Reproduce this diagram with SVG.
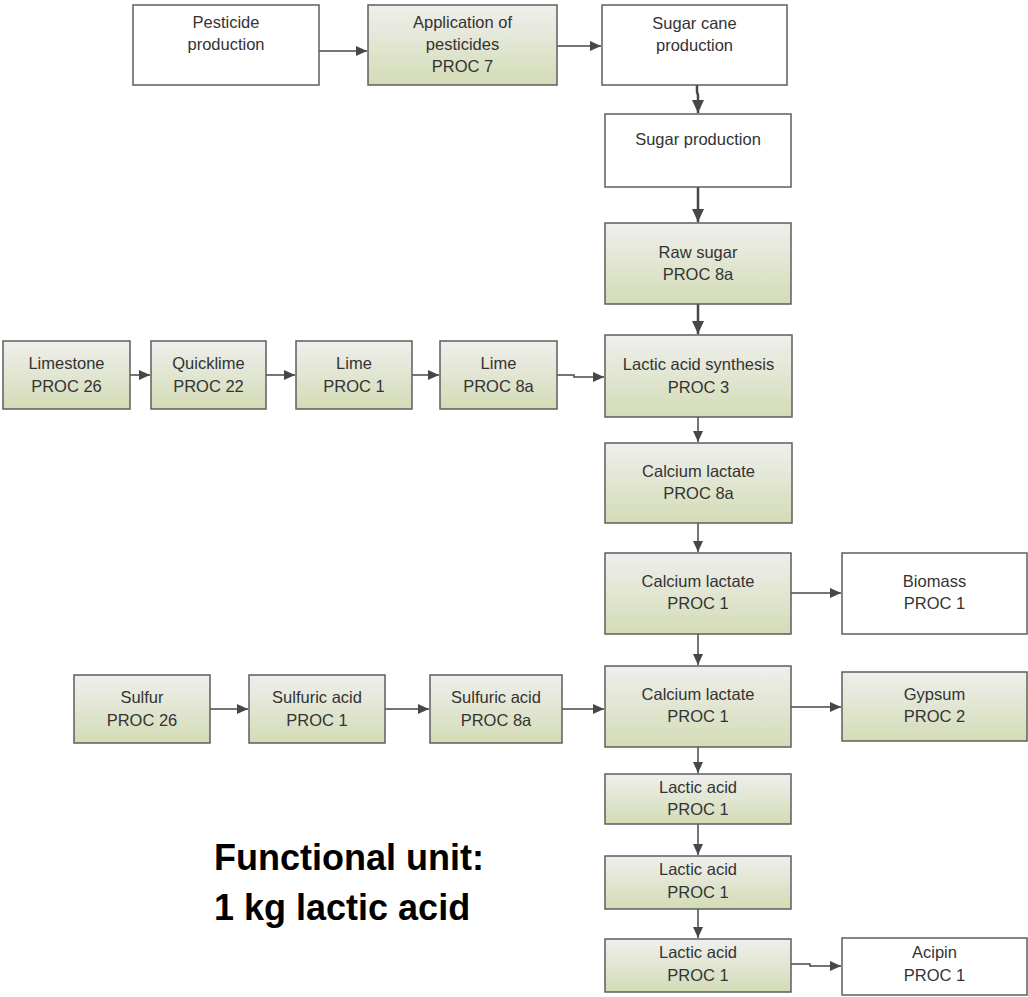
<svg xmlns="http://www.w3.org/2000/svg" width="1028" height="997" viewBox="0 0 1028 997">
<style>
  .box { stroke: #5e5e5e; stroke-width: 1.5; }
  .w { fill: #ffffff; }
  .g { fill: url(#grn); }
  text { font-family: "Liberation Sans", Arial, sans-serif; font-size: 16.5px; fill: #333333; text-anchor: middle; }
  .c { fill: none; stroke: #474747; stroke-width: 1.5; marker-end: url(#ah); }
  .ct { fill: none; stroke: #474747; stroke-width: 2.5; marker-end: url(#ahb); }
  .fu { font-size: 36px; font-weight: bold; fill: #000000; text-anchor: start; }
</style>
<defs>
  <linearGradient id="grn" x1="0" y1="0" x2="0" y2="1">
    <stop offset="0" stop-color="#efefed"/>
    <stop offset="1" stop-color="#d3dcb6"/>
  </linearGradient>
  <marker id="ah" markerUnits="userSpaceOnUse" markerWidth="12" markerHeight="10" refX="11" refY="5" orient="auto">
    <path d="M0,0 L11,5 L0,10 Z" fill="#474747"/>
  </marker>
  <marker id="ahb" markerUnits="userSpaceOnUse" markerWidth="14" markerHeight="12" refX="13" refY="6" orient="auto">
    <path d="M0,0 L13,6 L0,12 Z" fill="#474747"/>
  </marker>
</defs>
<rect width="1028" height="997" fill="#ffffff"/>
<g id="connectors">
  <path class="c" d="M319,51 H367"/>
  <path class="c" d="M557,46 H601"/>
  <path class="ct" d="M697,85 V92 L698,95 V113"/>
  <path class="ct" d="M698,187 V222"/>
  <path class="ct" d="M698,304 V334"/>
  <path class="c" d="M130,375 H150"/>
  <path class="c" d="M266,375 H295"/>
  <path class="c" d="M412,375 H439"/>
  <path class="c" d="M557,375 H574 V377 H604"/>
  <path class="c" d="M698,417 V442"/>
  <path class="c" d="M698,523 V552"/>
  <path class="c" d="M791,593 H841"/>
  <path class="c" d="M698,634 V665"/>
  <path class="c" d="M791,707 H841"/>
  <path class="c" d="M210,709 H248"/>
  <path class="c" d="M385,709 H429"/>
  <path class="c" d="M562,709 H604"/>
  <path class="c" d="M698,747 V773"/>
  <path class="c" d="M698,824 V855"/>
  <path class="c" d="M698,909 V938"/>
  <path class="c" d="M791,964 H810 V966 H841"/>
</g>
<g id="n1"><rect class="box w" x="133" y="5" width="186" height="80"/><text x="226" y="28">Pesticide</text><text x="226" y="50">production</text></g>
<g id="n2"><rect class="box g" x="368" y="5" width="189" height="80"/><text x="462.5" y="28">Application of</text><text x="462.5" y="50">pesticides</text><text x="462.5" y="72">PROC 7</text></g>
<g id="n3"><rect class="box w" x="602" y="5" width="185" height="80"/><text x="694.5" y="29">Sugar cane</text><text x="694.5" y="51">production</text></g>
<g id="n4"><rect class="box w" x="605" y="114" width="186" height="73"/><text x="698" y="145">Sugar production</text></g>
<g id="n5"><rect class="box g" x="605" y="223" width="186" height="81"/><text x="698" y="258">Raw sugar</text><text x="698" y="280">PROC 8a</text></g>
<g id="n6"><rect class="box g" x="3" y="341" width="127" height="68"/><text x="66.5" y="369">Limestone</text><text x="66.5" y="392">PROC 26</text></g>
<g id="n7"><rect class="box g" x="151" y="341" width="115" height="68"/><text x="208.5" y="369">Quicklime</text><text x="208.5" y="392">PROC 22</text></g>
<g id="n8"><rect class="box g" x="296" y="341" width="116" height="68"/><text x="354" y="369">Lime</text><text x="354" y="392">PROC 1</text></g>
<g id="n9"><rect class="box g" x="440" y="341" width="117" height="68"/><text x="498.5" y="369">Lime</text><text x="498.5" y="392">PROC 8a</text></g>
<g id="n10"><rect class="box g" x="605" y="335" width="187" height="82"/><text x="698.5" y="370">Lactic acid synthesis</text><text x="698.5" y="393">PROC 3</text></g>
<g id="n11"><rect class="box g" x="605" y="443" width="187" height="80"/><text x="698.5" y="477">Calcium lactate</text><text x="698.5" y="499">PROC 8a</text></g>
<g id="n12"><rect class="box g" x="605" y="553" width="186" height="81"/><text x="698" y="587">Calcium lactate</text><text x="698" y="609">PROC 1</text></g>
<g id="n13"><rect class="box w" x="842" y="553" width="185" height="81"/><text x="934.5" y="587">Biomass</text><text x="934.5" y="609">PROC 1</text></g>
<g id="n14"><rect class="box g" x="605" y="666" width="186" height="81"/><text x="698" y="700">Calcium lactate</text><text x="698" y="722">PROC 1</text></g>
<g id="n15"><rect class="box g" x="842" y="672" width="185" height="69"/><text x="934.5" y="700">Gypsum</text><text x="934.5" y="722">PROC 2</text></g>
<g id="n16"><rect class="box g" x="74" y="675" width="136" height="68"/><text x="142" y="703">Sulfur</text><text x="142" y="726">PROC 26</text></g>
<g id="n17"><rect class="box g" x="249" y="675" width="136" height="68"/><text x="317" y="703">Sulfuric acid</text><text x="317" y="726">PROC 1</text></g>
<g id="n18"><rect class="box g" x="430" y="675" width="132" height="68"/><text x="496" y="703">Sulfuric acid</text><text x="496" y="726">PROC 8a</text></g>
<g id="n19"><rect class="box g" x="605" y="774" width="186" height="50"/><text x="698" y="793">Lactic acid</text><text x="698" y="815">PROC 1</text></g>
<g id="n20"><rect class="box g" x="605" y="856" width="186" height="53"/><text x="698" y="875">Lactic acid</text><text x="698" y="898">PROC 1</text></g>
<g id="n21"><rect class="box g" x="605" y="939" width="186" height="53"/><text x="698" y="958">Lactic acid</text><text x="698" y="981">PROC 1</text></g>
<g id="n22"><rect class="box w" x="842" y="938" width="185" height="57"/><text x="934.5" y="958">Acipin</text><text x="934.5" y="981">PROC 1</text></g>
<g id="functional-unit"><text class="fu" x="214" y="870">Functional unit:</text><text class="fu" x="214" y="920">1 kg lactic acid</text></g>
</svg>
